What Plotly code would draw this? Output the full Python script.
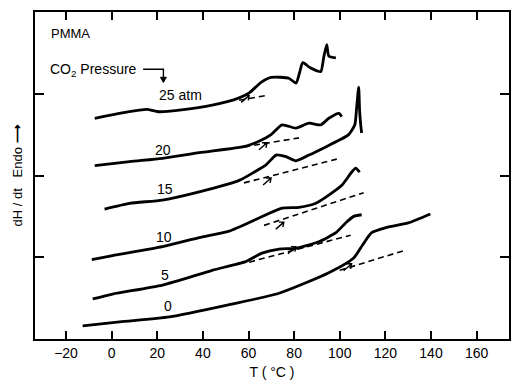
import plotly.graph_objects as go

# ---- data ----
# curve 0 atm
t0 = [-12.7, 3.5, 25.3, 51.5, 73.4, 95.2, 106.1, 110.0, 114.0, 120.0, 130.0, 139.7]
h0 = [0.16, 0.21, 0.27, 0.42, 0.56, 0.81, 0.99, 1.15, 1.30, 1.36, 1.42, 1.53]
# curve 5 atm
t5 = [-8.3, 0.4, 22.3, 44.1, 59.0, 65.9, 73.4, 80.8, 90.8, 98.3, 102.6, 106.1, 109.6]
h5 = [0.49, 0.55, 0.66, 0.84, 0.95, 1.05, 1.10, 1.11, 1.19, 1.30, 1.42, 1.50, 1.52]
# curve 10 atm
t10 = [-8.7, 0.4, 22.3, 38.4, 51.5, 64.6, 74.7, 82.1, 89.5, 95.2, 100.9, 105.2, 107.0, 108.7]
h10 = [0.97, 1.02, 1.13, 1.24, 1.32, 1.48, 1.60, 1.61, 1.66, 1.76, 1.88, 2.04, 2.09, 2.04]
# curve 15 atm
t15 = [-3.1, 7.9, 22.3, 38.4, 55.9, 62.4, 67.7, 72.1, 76.4, 80.8, 86.5, 93.9, 99.6,
       103.9, 106.6, 107.4, 108.3, 108.7, 109.2, 109.6]
h15 = [1.59, 1.66, 1.70, 1.80, 1.94, 2.04, 2.13, 2.25, 2.23, 2.18, 2.25, 2.35, 2.43,
       2.50, 2.62, 2.83, 3.08, 2.80, 2.62, 2.52]
# curve 20 atm
t20 = [-7.4, 7.9, 22.3, 38.4, 59.0, 65.5, 69.9, 74.7, 80.8, 86.5, 91.7, 95.2, 99.6, 100.9]
h20 = [2.12, 2.17, 2.21, 2.28, 2.36, 2.43, 2.50, 2.62, 2.58, 2.64, 2.62, 2.70, 2.76, 2.72]
# curve 25 atm
t25 = [-7.4, 7.9, 15.3, 21.0, 29.7, 44.1, 55.9, 60.3, 65.5, 69.9, 77.7, 80.8, 82.5,
       83.8, 86.9, 90.0, 91.7, 93.0, 94.3, 95.2, 98.3]
h25 = [2.70, 2.78, 2.81, 2.78, 2.80, 2.86, 2.95, 3.01, 3.14, 3.20, 3.19, 3.13, 3.27,
       3.38, 3.32, 3.28, 3.27, 3.45, 3.60, 3.46, 3.44]

curves_t = [t0, t5, t10, t15, t20, t25]
curves_h = [h0, h5, h10, h15, h20, h25]

# dashed baseline extrapolations (start, end)
base_t = [[100.0, 128.0], [60.3, 104.8], [66.8, 110.5], [58.0, 98.7], [58.1, 82.1], [55.9, 68.1]]
base_h = [[0.84, 1.08], [0.94, 1.27], [1.39, 1.79], [1.91, 2.20], [2.35, 2.46], [2.92, 2.98]]

# Tg arrow marks
tg_t = [105.2, 80.8, 75.5, 69.9, 68.1, 60.3]
tg_h = [0.92, 1.13, 1.43, 1.97, 2.40, 2.98]

# curve labels
lab_text = ["0", "5", "10", "15", "20", "25 atm"]
lab_t = [24.9, 23.6, 23.1, 23.6, 22.7, 30.1]
lab_h = [0.40, 0.78, 1.25, 1.83, 2.31, 2.98]

x_ticks = [-20, 0, 20, 40, 60, 80, 100, 120, 140, 160]
y_ticks = [1, 2, 3]

FONT = "Liberation Sans, Arial, sans-serif"

fig = go.Figure()
for xs, ys in zip(curves_t, curves_h):
    fig.add_trace(go.Scatter(x=xs, y=ys, mode="lines",
                             line=dict(color="black", width=2.8, shape="spline", smoothing=0.6),
                             hoverinfo="skip", showlegend=False))
for xs, ys in zip(base_t, base_h):
    fig.add_trace(go.Scatter(x=xs, y=ys, mode="lines",
                             line=dict(color="black", width=1.6, dash="6px,4px"),
                             hoverinfo="skip", showlegend=False))

annotations = []
for txt, x, y in zip(lab_text, lab_t, lab_h):
    annotations.append(dict(x=x, y=y, text=txt, showarrow=False,
                            font=dict(size=14, color="black", family=FONT)))

annotations.append(dict(x=-27.5, y=3.74, text="PMMA", showarrow=False, xanchor="left",
                        font=dict(size=13, color="black", family=FONT)))
annotations.append(dict(x=-28.0, y=3.29, text="CO<sub>2</sub> Pressure", showarrow=False,
                        xanchor="left", font=dict(size=14, color="black", family=FONT)))

shapes = []
# small Tg arrows (pixel-sized paths anchored at the data point; y pixels point up)
for x, y in zip(tg_t, tg_h):
    shapes.append(dict(type="path", xref="x", yref="y", xsizemode="pixel", ysizemode="pixel",
                       xanchor=x, yanchor=y,
                       path="M -8,-7 L 0,0 M -5,0 L 0,0 L -1,-5",
                       line=dict(color="black", width=1.4)))
# CO2 pressure arrow
shapes.append(dict(type="path", path="M 13.8,3.30 L 22.7,3.30 L 22.7,3.14",
                   line=dict(color="black", width=1.4), xref="x", yref="y"))
shapes.append(dict(type="path", xref="x", yref="y", xsizemode="pixel", ysizemode="pixel",
                   xanchor=22.7, yanchor=3.14, path="M -3,5 L 0,0 L 3,5 Z",
                   fillcolor="black", line=dict(color="black", width=1)))

fig.update_layout(
    width=511, height=383,
    margin=dict(l=35, r=0, t=12, b=44),
    paper_bgcolor="white", plot_bgcolor="white",
    font=dict(family=FONT, size=14, color="black"),
    annotations=annotations, shapes=shapes,
    showlegend=False,
)
fig.update_xaxes(range=[-33.6, 174.2], tickvals=x_ticks, ticks="inside", ticklen=8,
                 tickwidth=1.5, tickcolor="black", showline=True, linecolor="black",
                 linewidth=2, mirror="ticks", showgrid=False, zeroline=False,
                 title=dict(text="T ( °C )", font=dict(size=14), standoff=7),
                 tickfont=dict(size=14))
fig.update_yaxes(range=[0, 4], tickvals=y_ticks, ticks="inside", ticklen=9,
                 tickwidth=1.5, tickcolor="black", showline=True, linecolor="black",
                 linewidth=2, mirror="ticks", showgrid=False, zeroline=False,
                 showticklabels=False,
                 title=dict(text="dH / dt   Endo <b>⟶</b>", font=dict(size=13), standoff=7))

fig.write_html("out.html")
